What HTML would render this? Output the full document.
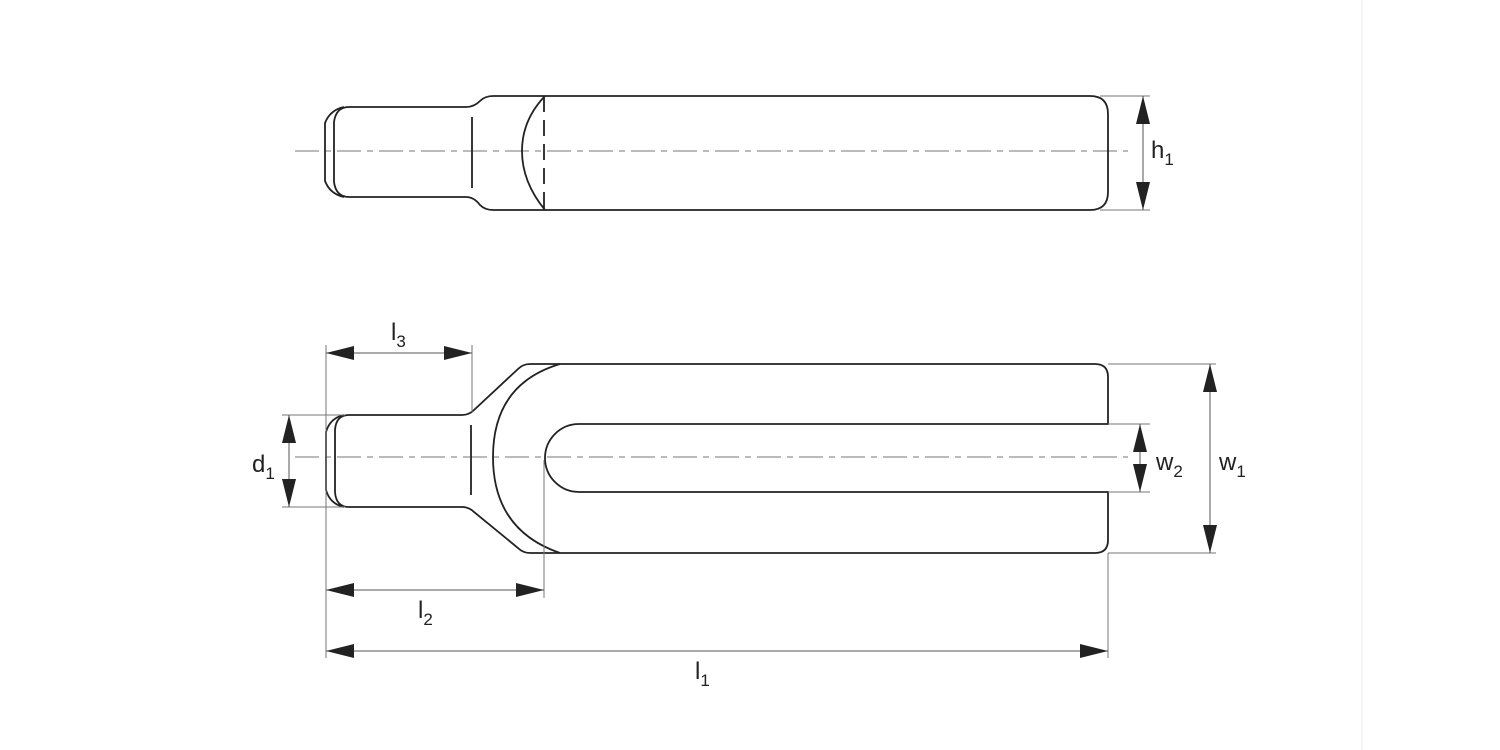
<!DOCTYPE html>
<html><head><meta charset="utf-8"><style>
html,body{margin:0;padding:0;background:#fff;width:1500px;height:750px;overflow:hidden}
text{font-family:"Liberation Sans",Arial,sans-serif;fill:#222}
</style></head><body>
<svg width="1500" height="750" viewBox="0 0 1500 750" xmlns="http://www.w3.org/2000/svg">
<defs>
<marker id="a" viewBox="0 0 28 14" refX="28" refY="7" markerWidth="28" markerHeight="14" markerUnits="userSpaceOnUse" orient="auto-start-reverse"><path d="M0,0 L28,7 L0,14 Z" fill="#222"/></marker>
</defs>
<line x1="1362" y1="0" x2="1362" y2="750" stroke="#eee" stroke-width="1"/>
<g stroke="#777" stroke-width="1" stroke-dasharray="24,6,6,6" fill="none">
<line x1="295" y1="151" x2="1128" y2="151"/>
<line x1="295" y1="457" x2="1128" y2="457"/>
</g>
<g stroke="#222" stroke-width="1.8" fill="none">
<path d="M349,107 L466,107 Q474,107 480,101 Q485,96 493,96 L1090,96 Q1108,96 1108,114 L1108,192 Q1108,210 1090,210 L493,210 Q485,210 480,205 Q474,197 466,197 L349,197"/>
<path d="M349,107 Q336,107 334,122 L334,182 Q336,197 349,197"/>
<path d="M344,107 Q330,110 325,123 L325,181 Q330,194 344,197"/>
<line x1="472" y1="117" x2="472" y2="188"/>
<path d="M545,96 Q522,120 522,151 Q522,182 545,210"/>
<line x1="544" y1="96" x2="544" y2="210" stroke-dasharray="16,8"/>
</g>
<g stroke="#222" stroke-width="1.8" fill="none">
<path d="M349,415 L462,415 Q469,415 474,410 L518,369 Q523,364 530,364 L1095,364 Q1108,364 1108,377 L1108,424 L579,424 A34,34 0 0 0 579,492 L1108,492 L1108,540 Q1108,553 1095,553 L530,553 Q523,553 518,548 L474,512 Q469,507 462,507 L349,507"/>
<path d="M349,415 Q336,415 335,430 L335,492 Q336,507 349,507"/>
<path d="M344,415 Q330,418 326,432 L326,490 Q330,504 344,507"/>
<line x1="471" y1="425" x2="471" y2="495"/>
<path d="M560,364 Q493,384 493,457 Q493,530 560,553"/>
</g>
<g stroke="#777" stroke-width="1" fill="none">
<line x1="326" y1="345" x2="326" y2="658"/>
<line x1="472" y1="345" x2="472" y2="412"/>
<line x1="544" y1="460" x2="544" y2="598"/>
<line x1="1108" y1="553" x2="1108" y2="658"/>
<line x1="282" y1="415" x2="345" y2="415"/>
<line x1="282" y1="507" x2="345" y2="507"/>
<line x1="1108" y1="364" x2="1216" y2="364"/>
<line x1="1108" y1="553" x2="1216" y2="553"/>
<line x1="1108" y1="424" x2="1150" y2="424"/>
<line x1="1108" y1="492" x2="1150" y2="492"/>
<line x1="1100" y1="96" x2="1150" y2="96"/>
<line x1="1100" y1="210" x2="1150" y2="210"/>
</g>
<g stroke="#555" stroke-width="1" fill="none">
<line x1="326" y1="353" x2="472" y2="353" marker-start="url(#a)" marker-end="url(#a)"/>
<line x1="326" y1="590" x2="544" y2="590" marker-start="url(#a)" marker-end="url(#a)"/>
<line x1="326" y1="651" x2="1108" y2="651" marker-start="url(#a)" marker-end="url(#a)"/>
<line x1="289" y1="415" x2="289" y2="507" marker-start="url(#a)" marker-end="url(#a)"/>
<line x1="1210" y1="364" x2="1210" y2="553" marker-start="url(#a)" marker-end="url(#a)"/>
<line x1="1140" y1="424" x2="1140" y2="492" marker-start="url(#a)" marker-end="url(#a)"/>
<line x1="1143" y1="96" x2="1143" y2="210" marker-start="url(#a)" marker-end="url(#a)"/>
</g>
<g font-size="24">
<text x="391" y="340">l<tspan font-size="17" dy="7">3</tspan></text>
<text x="418" y="618">l<tspan font-size="17" dy="7">2</tspan></text>
<text x="695" y="679">l<tspan font-size="17" dy="7">1</tspan></text>
<text x="252" y="472">d<tspan font-size="17" dy="7">1</tspan></text>
<text x="1156" y="470">w<tspan font-size="17" dy="7">2</tspan></text>
<text x="1219" y="470">w<tspan font-size="17" dy="7">1</tspan></text>
<text x="1151" y="158">h<tspan font-size="17" dy="7">1</tspan></text>
</g>
</svg>
</body></html>
